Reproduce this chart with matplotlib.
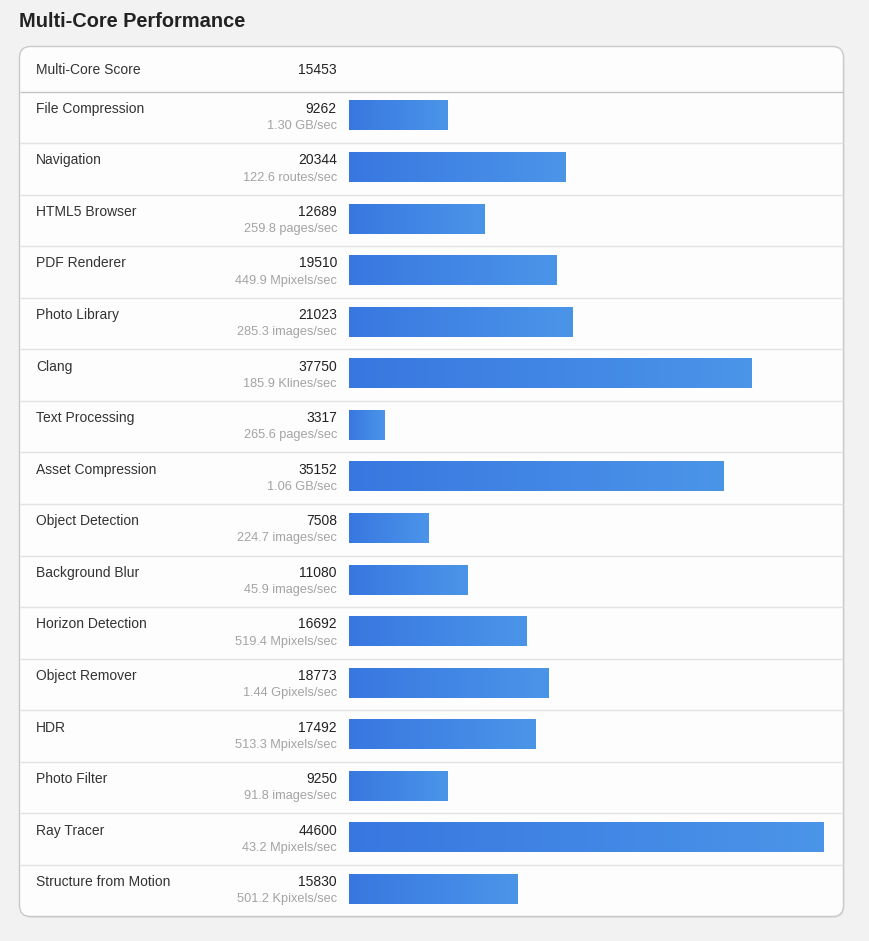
import numpy as np
import matplotlib
matplotlib.use("Agg")
import matplotlib.pyplot as plt
from matplotlib.patches import FancyBboxPatch
from matplotlib.transforms import blended_transform_factory
from matplotlib.colors import LinearSegmentedColormap

plt.rcParams['font.family'] = ['Liberation Sans', 'DejaVu Sans']

title = "Multi-Core Performance"
total_label = "Multi-Core Score"
total_score = 15453

names = ["File Compression", "Navigation", "HTML5 Browser", "PDF Renderer",
         "Photo Library", "Clang", "Text Processing", "Asset Compression",
         "Object Detection", "Background Blur", "Horizon Detection",
         "Object Remover", "HDR", "Photo Filter", "Ray Tracer",
         "Structure from Motion"]
scores = [9262, 20344, 12689, 19510, 21023, 37750, 3317, 35152,
          7508, 11080, 16692, 18773, 17492, 9250, 44600, 15830]
units = ["1.30 GB/sec", "122.6 routes/sec", "259.8 pages/sec",
         "449.9 Mpixels/sec", "285.3 images/sec", "185.9 Klines/sec",
         "265.6 pages/sec", "1.06 GB/sec", "224.7 images/sec",
         "45.9 images/sec", "519.4 Mpixels/sec", "1.44 Gpixels/sec",
         "513.3 Mpixels/sec", "91.8 images/sec", "43.2 Mpixels/sec",
         "501.2 Kpixels/sec"]

W, H = 869, 941
fig = plt.figure(figsize=(W / 100, H / 100), dpi=100)
fig.patch.set_facecolor("#f2f2f2")

# background axes in pixel coords
bg = fig.add_axes([0, 0, 1, 1])
bg.set_xlim(0, W)
bg.set_ylim(H, 0)
bg.axis("off")

card_l, card_r, card_t, card_b = 19.5, 843.5, 46.5, 916.5
head_b = 91.5
n = len(names)
row_h = (card_b - head_b) / n

# soft shadow then card
bg.add_patch(FancyBboxPatch((card_l + 1, card_t + 1.5), card_r - card_l, card_b - card_t,
                            boxstyle="round,pad=0,rounding_size=11",
                            fc="#e4e4e4", ec="none", zorder=1))
bg.add_patch(FancyBboxPatch((card_l, card_t), card_r - card_l, card_b - card_t,
                            boxstyle="round,pad=0,rounding_size=11",
                            fc="#fdfdfd", ec="#c9c9c9", lw=1.0, zorder=2))

bg.text(19, 27, title, fontsize=14.4, fontweight="bold", color="#222222",
        va="baseline", ha="left", zorder=5)

# header row
bg.text(36, 69.5, total_label, fontsize=10, color="#333333", va="center", ha="left", zorder=5)
bg.text(337, 69.5, str(total_score), fontsize=10, color="#222222", va="center", ha="right", zorder=5)
bg.hlines(head_b, card_l + 0.5, card_r - 0.5, color="#c4c4c4", lw=1.0, zorder=3)

for i in range(1, n):
    bg.hlines(head_b + i * row_h, card_l + 0.5, card_r - 0.5, color="#e2e2e2", lw=1.0, zorder=3)

# bar axes
x0, bar_px = 349, 475
ax = fig.add_axes([x0 / W, 1 - card_b / H, bar_px / W, (card_b - head_b) / H])
off = 1.8 / row_h
ax.axis("off")
ax.patch.set_alpha(0)

ypos = np.arange(n)
bars = ax.barh(ypos, scores, height=30 / row_h, color="#3f82e3", zorder=3)

cmap = LinearSegmentedColormap.from_list("g", ["#3877e0", "#4b95e9"])
grad = np.linspace(0, 1, 256).reshape(1, -1)
for b in bars:
    bx, by = b.get_x(), b.get_y()
    im = ax.imshow(grad, cmap=cmap, aspect="auto", zorder=4,
                   extent=[bx, bx + b.get_width(), by + b.get_height(), by])
    im.set_clip_path(b)
ax.set_xlim(0, max(scores))
ax.set_ylim(n - 0.5 + off, -0.5 + off)

# row texts
tr = blended_transform_factory(bg.transData, ax.transData)
for i, (nm, sc, un) in enumerate(zip(names, scores, units)):
    top = i - 0.5 + off
    bg.text(36, top + 21.3 / row_h, nm, transform=tr, fontsize=10, color="#333333",
            va="baseline", ha="left", zorder=5)
    bg.text(337, top + 21.3 / row_h, str(sc), transform=tr, fontsize=10, color="#222222",
            va="baseline", ha="right", zorder=5)
    bg.text(337, top + 37.5 / row_h, un, transform=tr, fontsize=9.2, color="#a3a3a3",
            va="baseline", ha="right", zorder=5)

plt.savefig("out.png", dpi=100, facecolor=fig.get_facecolor())
